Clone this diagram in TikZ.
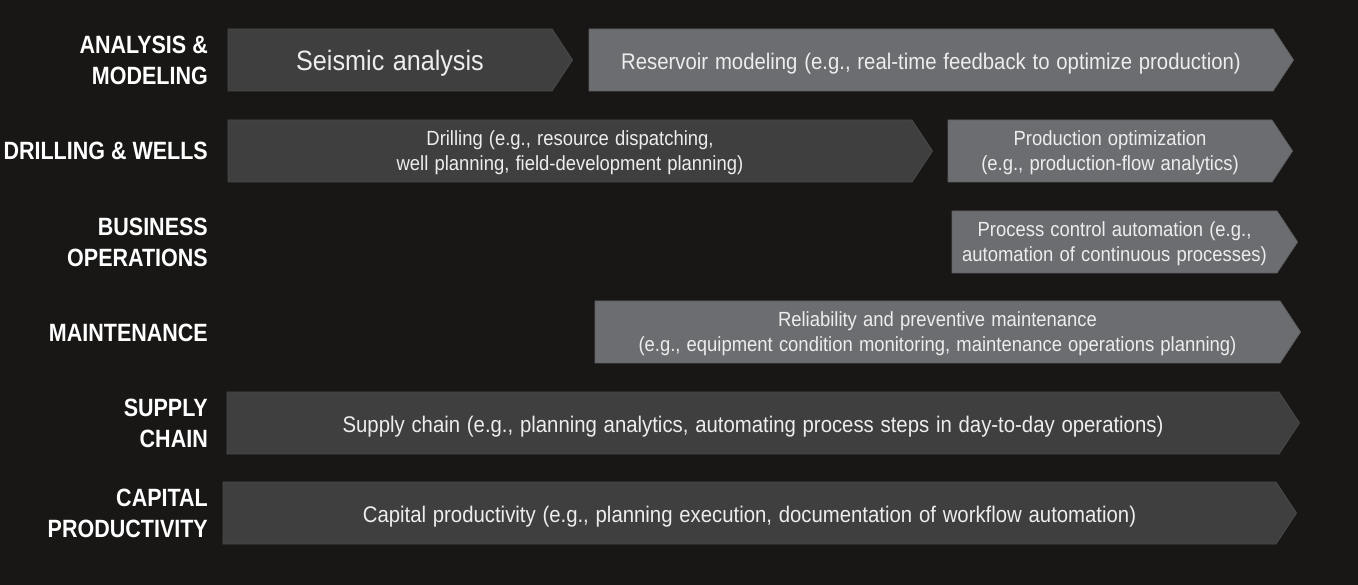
\documentclass[tikz,border=0pt]{standalone}
\usepackage{fontspec}
\setmainfont{Liberation Sans}
\newfontfamily\labfont[FakeStretch=0.86]{Liberation Sans}
\newfontfamily\barfont[FakeStretch=0.9,WordSpace=1.2]{Liberation Sans}
\definecolor{bg}{HTML}{181716}
\definecolor{darkbar}{HTML}{3F3F3F}
\definecolor{darkedge}{HTML}{4A4A4A}
\definecolor{lightbar}{HTML}{6C6D70}
\definecolor{lightedge}{HTML}{5E5F62}
\definecolor{bartxt}{HTML}{EDEDED}
\tikzset{
  rowlabel/.style={anchor=east, align=right, text=white,
    font=\labfont\bfseries\fontsize{25}{31}\selectfont, inner sep=0pt},
  bartext/.style={align=center, text=bartxt, yshift=-1.5pt,
    font=\barfont\fontsize{20.5}{24.5}\selectfont, inner sep=0pt},
  bigtext/.style={bartext, yshift=-2pt, font=\barfont\fontsize{28}{32}\selectfont},
  onetext/.style={bartext, yshift=-2pt, font=\barfont\fontsize{22.6}{26}\selectfont},
  darkshape/.style={fill=darkbar, draw=darkedge, line width=0.8pt},
  lightshape/.style={fill=lightbar, draw=lightedge, line width=0.8pt},
}
% name, x left, x body end, y top, shape style, text style, text
\newcommand\arrbar[7]{%
  \path[#5] (#2,#4) -- (#3,#4) -- ({#3+20.5},{#4+31}) -- (#3,{#4+62}) -- (#2,{#4+62}) -- cycle;
  \node[#6] (#1) at ({(#2+#3)/2},{#4+31}) {#7};
}
\begin{document}
\begin{tikzpicture}[x=1pt,y=-1pt]
\fill[bg] (0,0) rectangle (1358,585);
\useasboundingbox (0,0) rectangle (1358,585);

% row labels
\node[rowlabel] (l1) at (208,60) {ANALYSIS \&\\MODELING};
\node[rowlabel] (l2) at (208,151) {DRILLING \& WELLS};
\node[rowlabel] (l3) at (208,242) {BUSINESS\\OPERATIONS};
\node[rowlabel] (l4) at (208,333) {MAINTENANCE};
\node[rowlabel] (l5) at (208,423) {SUPPLY\\CHAIN};
\node[rowlabel] (l6) at (208,513) {CAPITAL\\PRODUCTIVITY};

% bars
\arrbar{seismic}{228}{552}{29}{darkshape}{bigtext}{Seismic analysis}
\arrbar{reservoir}{589}{1273}{29}{lightshape}{onetext}{Reservoir modeling (e.g., real-time feedback to optimize production)}
\arrbar{drilling}{228}{912}{120}{darkshape}{bartext}{Drilling (e.g., resource dispatching,\\well planning, field-development planning)}
\arrbar{production}{948}{1272}{120}{lightshape}{bartext}{Production optimization\\(e.g., production-flow analytics)}
\arrbar{process}{952}{1277}{211}{lightshape}{bartext}{Process control automation (e.g.,\\automation of continuous processes)}
\arrbar{reliability}{595}{1280}{301}{lightshape}{bartext}{Reliability and preventive maintenance\\(e.g., equipment condition monitoring, maintenance operations planning)}
\arrbar{supply}{227}{1279}{392}{darkshape}{onetext}{Supply chain (e.g., planning analytics, automating process steps in day-to-day operations)}
\arrbar{capital}{223}{1276}{482}{darkshape}{onetext}{Capital productivity (e.g., planning execution, documentation of workflow automation)}
\end{tikzpicture}
\end{document}
